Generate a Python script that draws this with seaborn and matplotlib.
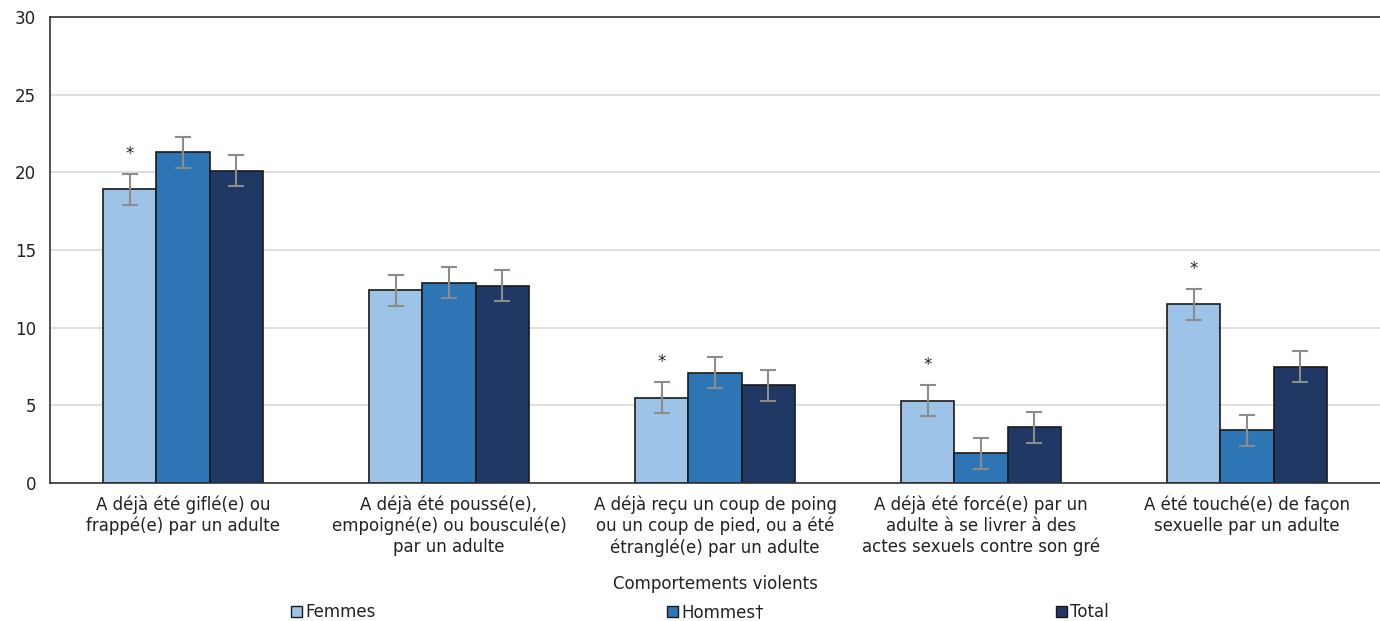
import matplotlib
matplotlib.use("Agg")
import matplotlib.pyplot as plt
import seaborn as sns
import pandas as pd
import numpy as np
from matplotlib.patches import Patch

categories = [
    "A déjà été giflé(e) ou\nfrappé(e) par un adulte",
    "A déjà été poussé(e),\nempoigné(e) ou bousculé(e)\npar un adulte",
    "A déjà reçu un coup de poing\nou un coup de pied, ou a été\nétranglé(e) par un adulte",
    "A déjà été forcé(e) par un\nadulte à se livrer à des\nactes sexuels contre son gré",
    "A été touché(e) de façon\nsexuelle par un adulte",
]
series = ["Femmes", "Hommes†", "Total"]
femmes = [18.9, 12.4, 5.5, 5.3, 11.5]
hommes = [21.3, 12.9, 7.1, 1.9, 3.4]
total = [20.1, 12.7, 6.3, 3.6, 7.5]
err_femmes = [1.0, 1.0, 1.0, 1.0, 1.0]
err_hommes = [1.0, 1.0, 1.0, 1.0, 1.0]
err_total = [1.0, 1.0, 1.0, 1.0, 1.0]
significant_femmes = [True, False, True, True, True]

colors = ["#9DC3E6", "#2E75B6", "#1F3864"]
text_color = "#222222"
fs = 12

values = [femmes, hommes, total]
errors = [err_femmes, err_hommes, err_total]
df = pd.DataFrame({
    "cat": categories * 3,
    "serie": [s for s in series for _ in categories],
    "val": femmes + hommes + total,
})

sns.set_theme(style="white")
plt.rcParams["font.family"] = ["DejaVu Sans"]

fig = plt.figure(figsize=(13.8, 6.21), dpi=100)
ax = fig.add_axes([50 / 1380, 1 - 483 / 621, 1330 / 1380, 466 / 621])

sns.barplot(data=df, x="cat", y="val", hue="serie", order=categories,
            hue_order=series, palette=colors, width=0.6, errorbar=None,
            edgecolor="#1a1a1a", linewidth=1.2, ax=ax, legend=False, saturation=1)

for cont, vals, errs in zip(ax.containers, values, errors):
    xs = [p.get_x() + p.get_width() / 2 for p in cont.patches]
    ax.errorbar(xs, vals, yerr=errs, fmt="none", ecolor="#8c8c8c",
                elinewidth=1.5, capsize=5.5, capthick=1.5, zorder=5)

fem_patches = ax.containers[0].patches
for p, v, e, sig in zip(fem_patches, femmes, err_femmes, significant_femmes):
    if sig:
        ax.text(p.get_x() + p.get_width() / 2, v + 2.3, "*", ha="center",
                va="center", fontsize=12, color=text_color)

ax.set_ylim(0, 30)
ax.set_xlim(-0.5, len(categories) - 0.5)
ax.set_yticks(range(0, 31, 5))
ax.yaxis.grid(True, color="#d9d9d9", linewidth=1.2)
ax.set_axisbelow(True)
ax.tick_params(axis="both", length=0, labelsize=fs, colors=text_color)
ax.tick_params(axis="y", pad=10)
ax.tick_params(axis="x", pad=9)
for lab in ax.get_xticklabels():
    lab.set_linespacing(1.2)
ax.set_ylabel("")
ax.set_xlabel("Comportements violents", fontsize=fs, color=text_color, labelpad=13)

for side in ["left", "top", "bottom"]:
    ax.spines[side].set_color("#333333")
    ax.spines[side].set_linewidth(1.2)
ax.spines["right"].set_visible(False)

handles = [Patch(facecolor=c, edgecolor="#1a1a1a", linewidth=1.0) for c in colors]
fig.legend(handles, series, loc="center", bbox_to_anchor=(700 / 1380, 1 - 612 / 621),
           ncol=3, frameon=False, fontsize=fs, handlelength=0.65, handleheight=0.65,
           handletextpad=0.2, columnspacing=17.5, labelcolor=text_color)

fig.savefig("out.png", dpi=100)
